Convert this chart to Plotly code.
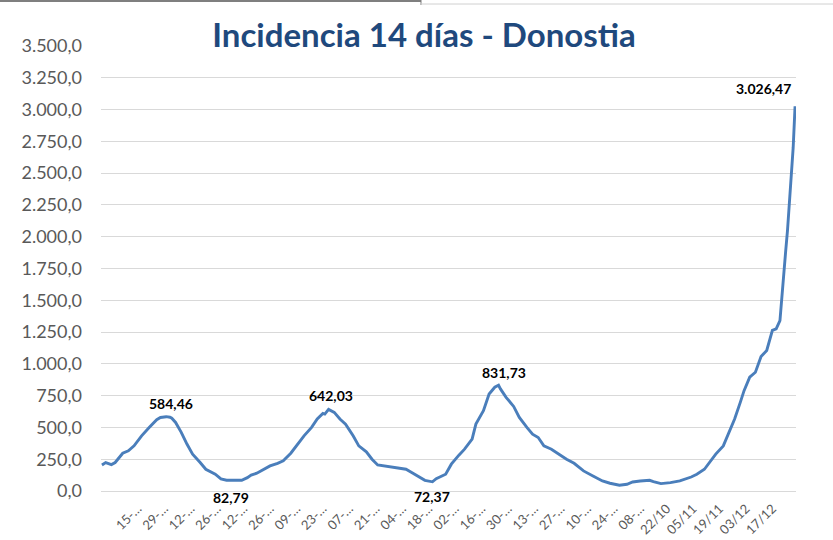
import plotly.graph_objects as go
import pandas as pd

# ---------------- data ----------------
start_date = "2020-12-27"
day_offsets = [
    0, 2, 5, 7, 11, 14, 17, 21, 25, 29, 31, 34, 36, 37, 39, 42, 45, 48, 52, 55,
    60, 63, 66, 70, 74, 77, 79, 82, 86, 89, 93, 96, 100, 103, 107, 111, 114, 117, 118, 120,
    123, 126, 129, 133, 136, 140, 143, 146, 149, 151, 154, 157, 161, 164, 168, 171, 175, 177, 182, 185,
    189, 192, 196, 198, 202, 205, 208, 210, 211, 214, 218, 221, 225, 228, 231, 234, 238, 241, 246, 250,
    255, 260, 265, 269, 274, 278, 281, 285, 290, 292, 296, 301, 306, 312, 315, 319, 322, 325, 329, 333,
    335, 338, 340, 343, 346, 349, 352, 355, 357, 359, 360, 361, 362, 363, 364, 365, 366, 367,
]
incidence = [
    205, 224, 208, 224, 297, 316, 355, 434, 500, 561, 578, 584.46, 580, 572, 539, 461, 369, 290, 224, 171,
    132, 95, 85, 82.79, 84, 105, 125, 140, 171, 197, 218, 237, 297, 355, 434, 500, 566, 610, 605, 642.03,
    618, 566, 526, 434, 355, 308, 250, 205, 197, 197, 189, 176, 171, 145, 110, 84, 72.37, 97, 132, 211,
    282, 329, 408, 526, 632, 763, 816, 831.73, 803, 737, 665, 579, 500, 447, 421, 355, 329, 297, 250, 218,
    158, 118, 79, 61, 45, 53, 71, 79, 84, 74, 58, 66, 79, 110, 132, 171, 232, 290, 355, 500,
    566, 697, 789, 895, 934, 1058, 1105, 1263, 1276, 1340, 1500, 1700, 1880, 2050, 2265, 2450, 2700, 3026.47,
]

tick_dates = [
    "2021-01-15", "2021-01-29", "2021-02-12", "2021-02-26", "2021-03-12", "2021-03-26",
    "2021-04-09", "2021-04-23", "2021-05-07", "2021-05-21", "2021-06-04", "2021-06-18",
    "2021-07-02", "2021-07-16", "2021-07-30", "2021-08-13", "2021-08-27", "2021-09-10",
    "2021-09-24", "2021-10-08", "2021-10-22", "2021-11-05", "2021-11-19", "2021-12-03",
    "2021-12-17",
]
tick_labels = [
    "15-…", "29-…", "12-…", "26-…", "12-…", "26-…", "09-…", "23-…", "07-…", "21-…",
    "04-…", "18-…", "02-…", "16-…", "30-…", "13-…", "27-…", "10-…", "24-…", "08-…",
    "22/10", "05/11", "19/11", "03/12", "17/12",
]

# days whose values carry a data label
labelled_days = [34, 70, 120, 175, 210, 367]

# ---------------- figure ----------------
dates = pd.Timestamp(start_date) + pd.to_timedelta(day_offsets, unit="D")


def fmt_es(v):
    s = f"{v:,.2f}"
    return s.replace(",", "X").replace(".", ",").replace("X", ".")


fig = go.Figure()
fig.add_trace(go.Scatter(
    x=dates, y=incidence, mode="lines",
    line=dict(color="#4A7EBB", width=2.9),
    hoverinfo="skip", showlegend=False,
))

# label styles: (xshift, yshift, xanchor)
label_styles = {
    34: (5, 13, "center"),
    70: (-3, -17, "center"),
    120: (2, 14, "center"),
    175: (0, -15, "center"),
    210: (5, 13, "center"),
    367: (-2, 18, "right"),
}
for d in labelled_days:
    i = day_offsets.index(d)
    xs, ys, xa = label_styles[d]
    fig.add_annotation(
        x=dates[i], y=incidence[i], text=f"<b>{fmt_es(incidence[i])}</b>",
        showarrow=False, xanchor=xa, yanchor="middle", xshift=xs, yshift=ys,
        font=dict(family="Lato", size=14, color="#000000"),
    )

# screenshot frame at the very top
W, H = 833, 540
ml, mr, mt, mb = 101, 37, 46, 49
pw, ph = W - ml - mr, H - mt - mb


def px_x(p):
    return (p - ml) / pw


def px_y(p):
    return (H - mb - p) / ph


fig.add_shape(type="line", xref="paper", yref="paper", x0=px_x(0), x1=px_x(421),
              y0=px_y(1), y1=px_y(1), line=dict(color="#7F7F7F", width=2))
fig.add_shape(type="line", xref="paper", yref="paper", x0=px_x(421), x1=px_x(421),
              y0=px_y(0), y1=px_y(5), line=dict(color="#7F7F7F", width=1))
fig.add_shape(type="line", xref="paper", yref="paper", x0=px_x(421), x1=px_x(833),
              y0=px_y(4), y1=px_y(4), line=dict(color="#D0D0D0", width=1))

fig.update_layout(
    width=W, height=H,
    margin=dict(l=ml, r=mr, t=mt, b=mb, pad=0, autoexpand=False),
    paper_bgcolor="white", plot_bgcolor="white",
    separators=",.",
    title=dict(
        text="<b>Incidencia 14 días - Donostia</b>",
        font=dict(family="Lato", size=33, color="#1F497D"),
        xref="container", yref="container", x=424 / W, y=1 - 35 / H,
        xanchor="center", yanchor="middle",
    ),
    font=dict(family="Lato", color="#595959"),
)
fig.update_xaxes(
    type="date", automargin=False,
    range=[pd.Timestamp(start_date) - pd.Timedelta(hours=12),
           pd.Timestamp(start_date) + pd.Timedelta(days=day_offsets[-1], hours=12)],
    tickmode="array", tickvals=tick_dates, ticktext=tick_labels,
    tickangle=-45, tickfont=dict(family="Lato", size=13, color="#595959"),
    showgrid=False, zeroline=False, showline=True, linecolor="#D9D9D9", linewidth=1,
    ticks="", ticklabelstandoff=4,
)
fig.update_yaxes(
    automargin=False,
    range=[0, 3500], dtick=250, tick0=0, tickformat=",.1f",
    tickfont=dict(family="Lato", size=18, color="#595959"),
    showgrid=True, gridcolor="#D9D9D9", gridwidth=1,
    zeroline=False, showline=False, ticks="", ticklabelstandoff=18,
)

fig.write_html(
    "out.html",
    config={"displayModeBar": False, "staticPlot": True},
    post_script="document.body.style.margin='0';document.body.style.overflow='hidden';",
)
